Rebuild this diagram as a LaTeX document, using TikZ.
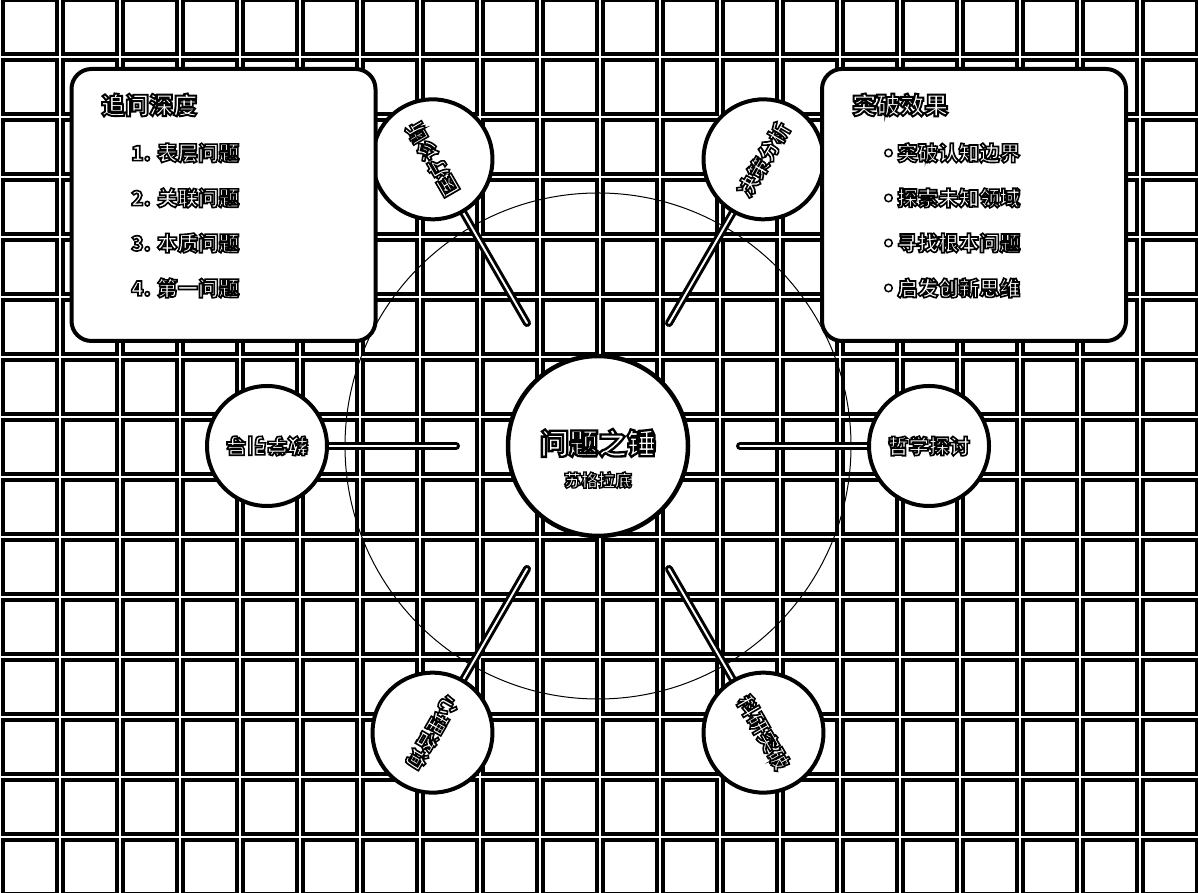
\documentclass[tikz,border=0pt]{standalone}
\usepackage{fontspec}
\setmainfont{Noto Sans CJK SC}[BoldFeatures={FakeBold=8}]
\usetikzlibrary{calc}
\pgfdeclarelayer{bg}
\pgfsetlayers{bg,main}
\tikzset{
  gridline/.style={line width=10pt, black},
  gridgap/.style={line width=2pt, white},
  conn/.style={draw=black, line width=3pt, double=white, double distance=2pt, line cap=round},
  hubnode/.style={circle, draw=black, fill=white, line width=4.5pt, minimum size=180pt, inner sep=0pt},
  sat/.style={circle, draw=black, fill=white, line width=4pt, minimum size=120pt, inner sep=0pt, text=white, font=\bfseries\fontsize{20.5}{24}\selectfont},
  panel/.style={draw=black, fill=white, line width=4pt, rounded corners=20pt, minimum width=304pt, minimum height=272pt, inner sep=0pt},
  ttl/.style={anchor=west, inner sep=0pt, text=white, font=\bfseries\fontsize{24}{28}\selectfont},
  itm/.style={anchor=west, inner sep=0pt, text=white, font=\bfseries\fontsize{20.5}{24}\selectfont},
  dotmark/.style={circle, draw=black, fill=white, line width=1.5pt, minimum size=7.5pt, inner sep=0pt},
}
\newcommand\hl[1]{{\special{pdf:literal direct 0 0 0 RG}#1}}
\begin{document}
\begin{tikzpicture}[x=1pt,y=1pt]
\useasboundingbox (0,0) rectangle (1198,893);
\coordinate (C) at (598,447);
\node[hubnode] (hub) at (C) {};
\node[text=white, font=\bfseries\fontsize{29}{32}\selectfont, inner sep=0pt] (hubt) at ([yshift=3]hub.center) {\hl{问题之锤}};
\node[text=white, font=\bfseries\fontsize{17}{20}\selectfont, inner sep=0pt] (hubs) at ([yshift=-34]hub.center) {\hl{苏格拉底}};
\foreach \a/\t in {0/哲学探讨,60/决策分析,120/医疗诊断,180/教学引导,240/心理咨询,300/科研突破} {
  \node[sat, rotate=\a] (s\a) at ($(C)+(\a:331)$) {\hl{\t}};
  \coordinate (k\a) at ($(C)+(\a:142)$);
}
\node[panel] (lbox) at (223.5,688) {};
\node[panel] (rbox) at (974,688) {};
\node[ttl] (lt) at (101,788) {\hl{追问深度}};
\node[itm] (l1) at (131,740) {\hl{1. 表层问题}};
\node[itm] (l2) at (131,695) {\hl{2. 关联问题}};
\node[itm] (l3) at (131,650) {\hl{3. 本质问题}};
\node[itm] (l4) at (131,605) {\hl{4. 第一问题}};
\node[ttl] (rt) at (852,788) {\hl{突破效果}};
\node[dotmark] (d1) at (888.5,740) {};
\node[dotmark] (d2) at (888.5,695) {};
\node[dotmark] (d3) at (888.5,650) {};
\node[dotmark] (d4) at (888.5,605) {};
\node[itm] (r1) at (897,740) {\hl{突破认知边界}};
\node[itm] (r2) at (897,695) {\hl{探索未知领域}};
\node[itm] (r3) at (897,650) {\hl{寻找根本问题}};
\node[itm] (r4) at (897,605) {\hl{启发创新思维}};
\begin{pgfonlayer}{bg}
  \fill[white] (0,0) rectangle (1198,893);
  \begin{scope}
    \clip (0,0) rectangle (1198,893);
    \foreach \x in {0,60,...,1200} \draw[gridline] (\x,-10) -- (\x,903);
    \foreach \y in {-4,56,...,896} \draw[gridline] (-10,\y) -- (1210,\y);
    \foreach \x in {0,60,...,1200} \draw[gridgap] (\x,-10) -- (\x,903);
    \foreach \y in {-4,56,...,896} \draw[gridgap] (-10,\y) -- (1210,\y);
  \end{scope}
  \draw[line width=1pt] (hub.center) circle[radius=253];
  \foreach \a in {0,60,...,300} \draw[conn] (k\a) -- (s\a.center);
\end{pgfonlayer}
\end{tikzpicture}
\end{document}
